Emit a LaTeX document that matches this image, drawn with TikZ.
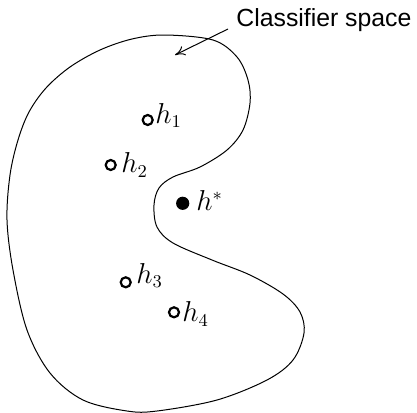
\documentclass[tikz,border=0pt]{standalone}
\usepackage{fontspec}
\setsansfont{Liberation Sans}
\usepackage{tikz}
\usetikzlibrary{arrows.meta,calc}
\tikzset{
  fig/outline/.style={draw=black, line width=0.5pt},
  fig/hollow/.style ={circle, draw=black, line width=1.1pt, fill=white,
                      minimum size=5pt, inner sep=0pt},
  fig/solid/.style  ={circle, fill=black, minimum size=6.6pt, inner sep=0pt},
  fig/lbl/.style    ={anchor=base west, inner sep=0pt,
                      font=\fontsize{13.5}{16}\selectfont},
  fig/title/.style  ={anchor=base west, inner sep=0pt,
                      font=\sffamily\fontsize{12.4}{14}\selectfont},
  fig/arr/.style    ={-{To[length=5pt, width=5pt]}, line width=0.5pt}
}
\begin{document}
\begin{tikzpicture}[x=0.5pt, y=-0.5pt]
    % frame in pixels of the reference
    \useasboundingbox (0,0) rectangle (417,412);
    % the classifier set
    \draw[fig/outline] plot[smooth cycle, tension=0.55] coordinates {
      (165,35) (213,40) (237,57) (248,80) (250,103) (243,130) (227,150)
      (200,167) (173,177) (159,188) (154,205) (157,227) (173,243)
      (212,260) (250,275) (283,294) (300,312) (304,333) (293,360)
      (267,380) (217,400) (157,411) (127,411) (83,400) (50,373)
      (27,330) (13,270) (7,220) (10,175) (18,140) (29,112) (46,88)
      (70,67) (100,50) (132,39)};
    % hypotheses
    \node[fig/hollow] (h1) at (147.7,120) {};
    \node[fig/hollow] (h2) at (110.7,165) {};
    \node[fig/solid]  (hs) at (182.7,203.3) {};
    \node[fig/hollow] (h3) at (125.7,282.3) {};
    \node[fig/hollow] (h4) at (174,312.3) {};
    \node[fig/lbl] (l1) at (155,123) {$h_1$};
    \node[fig/lbl] (l2) at (121,172.7) {$h_2$};
    \node[fig/lbl] (ls) at (196,210.7) {$h^*$};
    \node[fig/lbl] (l3) at (136,283.3) {$h_3$};
    \node[fig/lbl] (l4) at (182,321.7) {$h_4$};
    % caption and pointer
    \node[fig/title] (cs) at (236,26) {Classifier space};
    \coordinate (tip) at (175,55);
    \draw[fig/arr] ([shift={(-8,3)}]cs.base west) -- (tip);
\end{tikzpicture}
\end{document}
